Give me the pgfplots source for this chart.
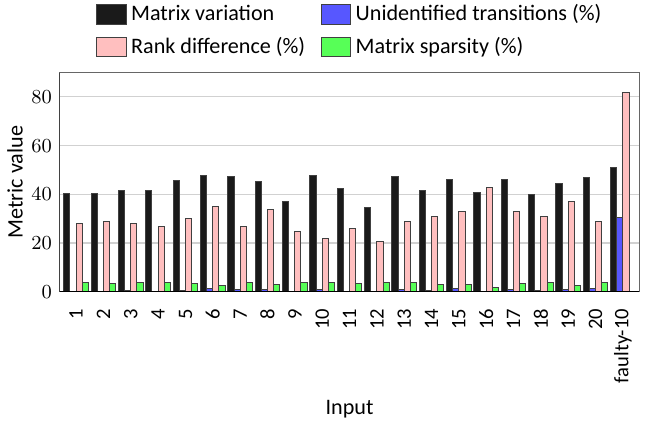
\documentclass[border=0pt]{standalone}
\usepackage{pgfplots}
\usepackage{pgfplotstable}
\pgfplotsset{compat=1.18}
\usepackage{fontspec}
\setmainfont{Carlito}
\definecolor{cblack}{HTML}{1A1A1A}
\definecolor{cblue}{HTML}{5757FF}
\definecolor{cpink}{HTML}{FFBFBF}
\definecolor{cgreen}{HTML}{57FF57}
\pgfplotstableread{
x mv ut rd ms
0 40.3 0.2 27.9 3.9
1 40.3 0.0 28.9 3.3
2 41.6 0.6 27.9 3.9
3 41.6 0.2 26.9 3.8
4 45.6 0.6 30.0 3.5
5 47.8 1.2 34.8 2.4
6 47.5 0.8 26.9 3.8
7 45.2 0.8 33.8 3.1
8 36.9 0.0 24.9 3.8
9 47.6 0.9 22.0 3.9
10 42.2 0.0 25.9 3.3
11 34.4 0.0 20.8 3.9
12 47.5 0.8 28.9 3.7
13 41.5 0.4 31.0 3.1
14 45.9 1.1 33.1 3.0
15 40.8 0.0 42.8 1.8
16 45.9 0.9 33.1 3.5
17 40.1 0.4 31.0 3.7
18 44.5 0.9 36.9 2.4
19 47.0 1.2 28.9 3.9
20 51.0 30.6 81.8 0.0
}\data
\begin{document}
\begin{tikzpicture}
\begin{axis}[
  scale only axis,
  width=262pt, height=99pt,
  ybar=0pt, bar width=0.225,
  xmin=-0.6, xmax=20.6,
  ymin=0, ymax=90,
  ytick={0,20,40,60,80},
  xtick={0,...,20},
  xticklabels={1,2,3,4,5,6,7,8,9,10,11,12,13,14,15,16,17,18,19,20,faulty-10},
  xticklabel style={rotate=90, anchor=east},
  ticklabel style={font=\fontsize{9.3}{11}\selectfont},
  tick style={draw=none},
  ymajorgrids,
  grid style={black!18, line width=0.5pt},
  axis line style={black!60, line width=0.5pt},
  xlabel={Input}, ylabel={Metric value},
  xlabel style={yshift=-1pt},
  ylabel style={yshift=-3pt},
  every axis plot/.append style={draw=black!75, line width=0.45pt},
  legend columns=2,
  legend cell align=left,
  legend style={draw=none, at={(0.062,1)}, anchor=south west, yshift=5pt,
    inner sep=0pt, row sep=2pt,
    /tikz/every even column/.append style={column sep=5pt}},
  legend image code/.code={\draw[#1, draw=black!75] (0pt,-4.45pt) rectangle (13.4pt,4.45pt);},
]
\addplot[fill=cblack] table[x=x,y=mv]{\data};
\addplot[fill=cblue] table[x=x,y=ut]{\data};
\addplot[fill=cpink] table[x=x,y=rd]{\data};
\addplot[fill=cgreen] table[x=x,y=ms]{\data};
\legend{Matrix variation, Unidentified transitions (\%), Rank difference (\%), Matrix sparsity (\%)}
\draw[black, line width=0.6pt] (rel axis cs:0,1) -- (rel axis cs:0,0) -- (rel axis cs:1,0);
\end{axis}
\path (current axis.south east) ++(8pt,0);
\end{tikzpicture}
\end{document}
